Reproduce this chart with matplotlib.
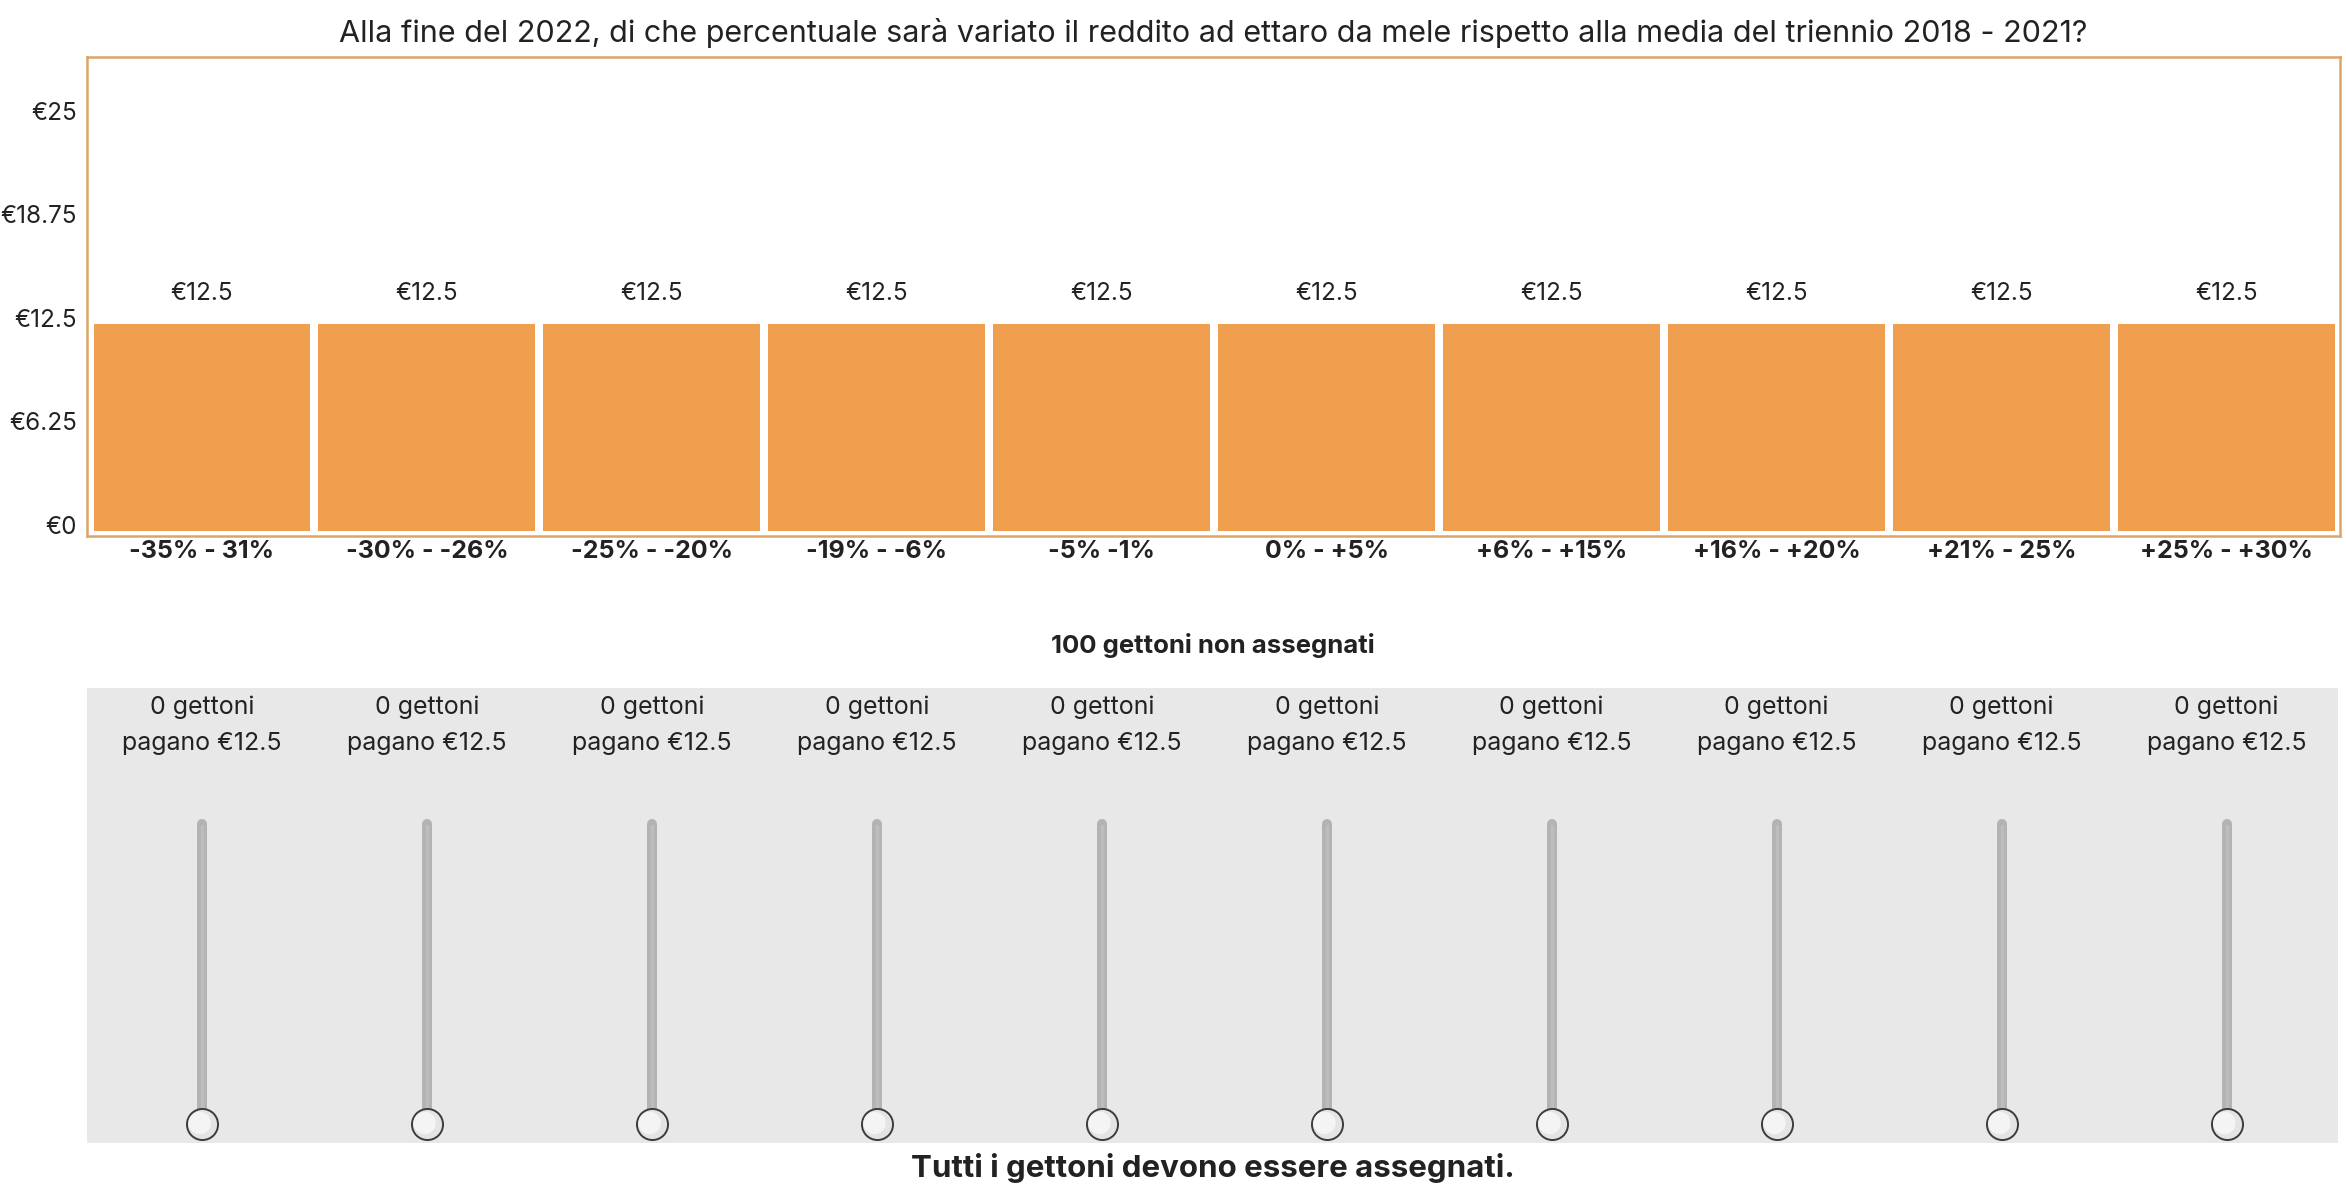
import matplotlib
matplotlib.use("Agg")
import matplotlib.pyplot as plt
from matplotlib.transforms import blended_transform_factory, ScaledTranslation

W, H = 2346, 1187

categories = ["-35% - 31%", "-30% - -26%", "-25% - -20%", "-19% - -6%", "-5% -1%",
              "0% - +5%", "+6% - +15%", "+16% - +20%", "+21% - 25%", "+25% - +30%"]
values = [12.5, 12.5, 12.5, 12.5, 12.5, 12.5, 12.5, 12.5, 12.5, 12.5]
tokens = [0, 0, 0, 0, 0, 0, 0, 0, 0, 0]
y_ticks = [0, 6.25, 12.5, 18.75, 25]
y_tick_labels = ["€0", "€6.25", "€12.5", "€18.75", "€25"]
unassigned = 100

plt.rcParams["font.family"] = ["Inter", "DejaVu Sans"]
TXT = "#222222"
BAR = "#ef9f4d"
FRAME = "#dca566"


def box(left, top, right, bottom):
    return [left / W, 1 - bottom / H, (right - left) / W, (bottom - top) / H]


fig = plt.figure(figsize=(W / 100, H / 100), dpi=100)
fig.patch.set_facecolor("white")

# bar chart
ax = fig.add_axes(box(87, 57, 2340, 536))
x = list(range(len(categories)))
ax.bar(x, values, width=0.964, color=BAR, linewidth=0)
ax.set_xlim(-0.511, 9.504)
ax.set_ylim(-0.33, 28.6)
for s in ax.spines.values():
    s.set_color(FRAME)
    s.set_linewidth(1.8)
ax.set_xticks([])
ax.set_yticks(y_ticks)
ax.set_yticklabels(y_tick_labels, fontsize=17.5, color=TXT)
ax.tick_params(axis="y", length=0, pad=7)
# the labels in the original sit a little above their grid value
lift = ScaledTranslation(0, 6 / 100, fig.dpi_scale_trans)
for lbl in ax.get_yticklabels():
    lbl.set_transform(lbl.get_transform() + lift)
for xi, v in zip(x, values):
    ax.annotate(f"€{v:g}", (xi, v), xytext=(0, 22), textcoords="offset points",
                ha="center", va="center", fontsize=17.5, color=TXT)

figpx = blended_transform_factory(ax.transData, fig.transFigure)
for xi, c in zip(x, categories):
    ax.text(xi, 1 - 551 / H, c, transform=figpx, ha="center", va="center",
            fontsize=18, fontweight="bold", color=TXT)

fig.text(1213 / W, 1 - 33 / H,
         "Alla fine del 2022, di che percentuale sarà variato il reddito ad ettaro da mele "
         "rispetto alla media del triennio 2018 - 2021?",
         ha="center", va="center", fontsize=22, color=TXT)

fig.text(1213 / W, 1 - 646 / H, f"{unassigned} gettoni non assegnati",
         ha="center", va="center", fontsize=18.5, fontweight="bold", color=TXT)

# slider panel
ax2 = fig.add_axes(box(87, 688, 2338, 1143))
ax2.set_xlim(-0.511, 9.495)
ax2.set_ylim(1143, 688)
ax2.axis("off")
ax2.add_patch(plt.Rectangle((-0.511, 688), 10.006, 455, color="#e8e8e8", zorder=0))
for xi, t, v in zip(x, tokens, values):
    ax2.text(xi, 707, f"{t} gettoni", ha="center", va="center", fontsize=18, color=TXT)
    ax2.text(xi, 744, f"pagano €{v:g}", ha="center", va="center", fontsize=18, color=TXT)
    ax2.plot([xi, xi], [824, 1110], color="#b3b3b3", linewidth=7.2,
             solid_capstyle="round", zorder=2)
    ax2.plot([xi, xi], [826, 1110], color="#bdbdbd", linewidth=2.5,
             solid_capstyle="round", zorder=2)
    ax2.scatter([xi], [1124], s=500, facecolor="#e4e4e4", edgecolor="#3c3c3c",
                linewidth=1.4, zorder=3)
    ax2.scatter([xi - 0.01], [1123], s=260, facecolor="#f4f4f4", edgecolor="none",
                zorder=4)

fig.text(1213 / W, 1 - 1168 / H, "Tutti i gettoni devono essere assegnati.",
         ha="center", va="center", fontsize=22.5, fontweight="bold", color=TXT)

fig.savefig("out.png", dpi=100)
